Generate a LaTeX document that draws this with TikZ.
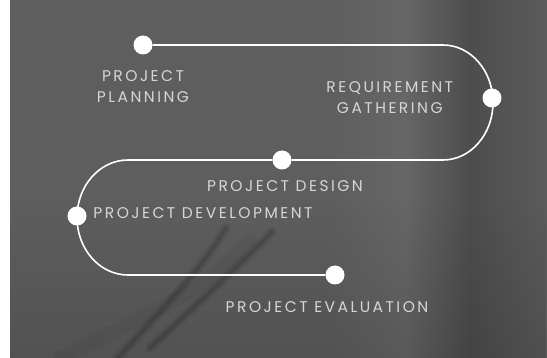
\documentclass[tikz,border=0pt]{standalone}
\usepackage{fontspec}
\newfontfamily\stagefont{Poppins}[LetterSpace=16.0]
\usetikzlibrary{
  positioning,
  fadings
}
\definecolor{slate}{HTML}{5E5E5E}
\definecolor{slatelight}{HTML}{666666}
\definecolor{slatedark}{HTML}{4D4D4D}
\definecolor{caption}{HTML}{D6D6D6}

\begin{document}
\begin{tikzpicture}[x=1pt, y=-1pt,
            dot/.style={circle, fill=white, inner sep=0pt, minimum size=19pt},
            stage/.style={text=caption, font=\stagefont\fontsize{15.5}{21}\selectfont, align=center, inner sep=0pt},
            track/.style={draw=white, line width=1.6pt},
            stem/.style={draw=black, line cap=round, opacity=0.05}]
            \useasboundingbox (0,0) rectangle (547,358);
            \fill [slate] (10,0) rectangle (547,358);
            \shade [left color=slate, right color=slatelight] (330,0) rectangle (405,358);
            \shade [left color=slatelight, right color=slatedark] (405,0) rectangle (470,358);
            \shade [left color=slatedark, right color=slatedark!92!white] (470,0) rectangle (547,358);
            \fill [black, opacity=0.12, path fading=north] (10,200) rectangle (547,358);
            \foreach \w in {2,4,7,10} {
              \path [stem, line width=\w pt] (226,228) .. controls (200,268) .. (118,358);
              \path [stem, line width=\w pt] (272,232) .. controls (238,266) .. (150,348);
            }
            \path [stem, line width=14pt, opacity=0.04] (250,240) .. controls (200,290) .. (60,358);

            \node [dot] (planning) at (143,45) {};
            \node [dot] (gathering) at (492,98) {};
            \node [dot] (design) at (282,160) {};
            \node [dot] (development) at (77,216) {};
            \node [dot] (evaluation) at (335,275) {};
            \coordinate (rturn) at (443,45);
            \coordinate (lturn) at (128,160);

            \node [stage, below=16pt of planning] (planninglabel) {PROJECT\\PLANNING};
            \node [stage, left=29pt of gathering] (gatheringlabel) {REQUIREMENT\\GATHERING};
            \node [stage, below=11pt of design, xshift=3pt] (designlabel) {PROJECT DESIGN};
            \node [stage, right=6.5pt of development, yshift=3pt] (developmentlabel) {PROJECT DEVELOPMENT};
            \node [stage, below=17pt of evaluation, xshift=-8pt] (evaluationlabel) {PROJECT EVALUATION};

            \path [track] (planning) -- (rturn) arc [start angle=90, end angle=-90, x radius=50pt, y radius=57.5pt] -- (design);
            \path [track] (design) -- (lturn) arc [start angle=90, end angle=270, x radius=51pt, y radius=57.5pt] -- (evaluation);
        \end{tikzpicture}
\end{document}
